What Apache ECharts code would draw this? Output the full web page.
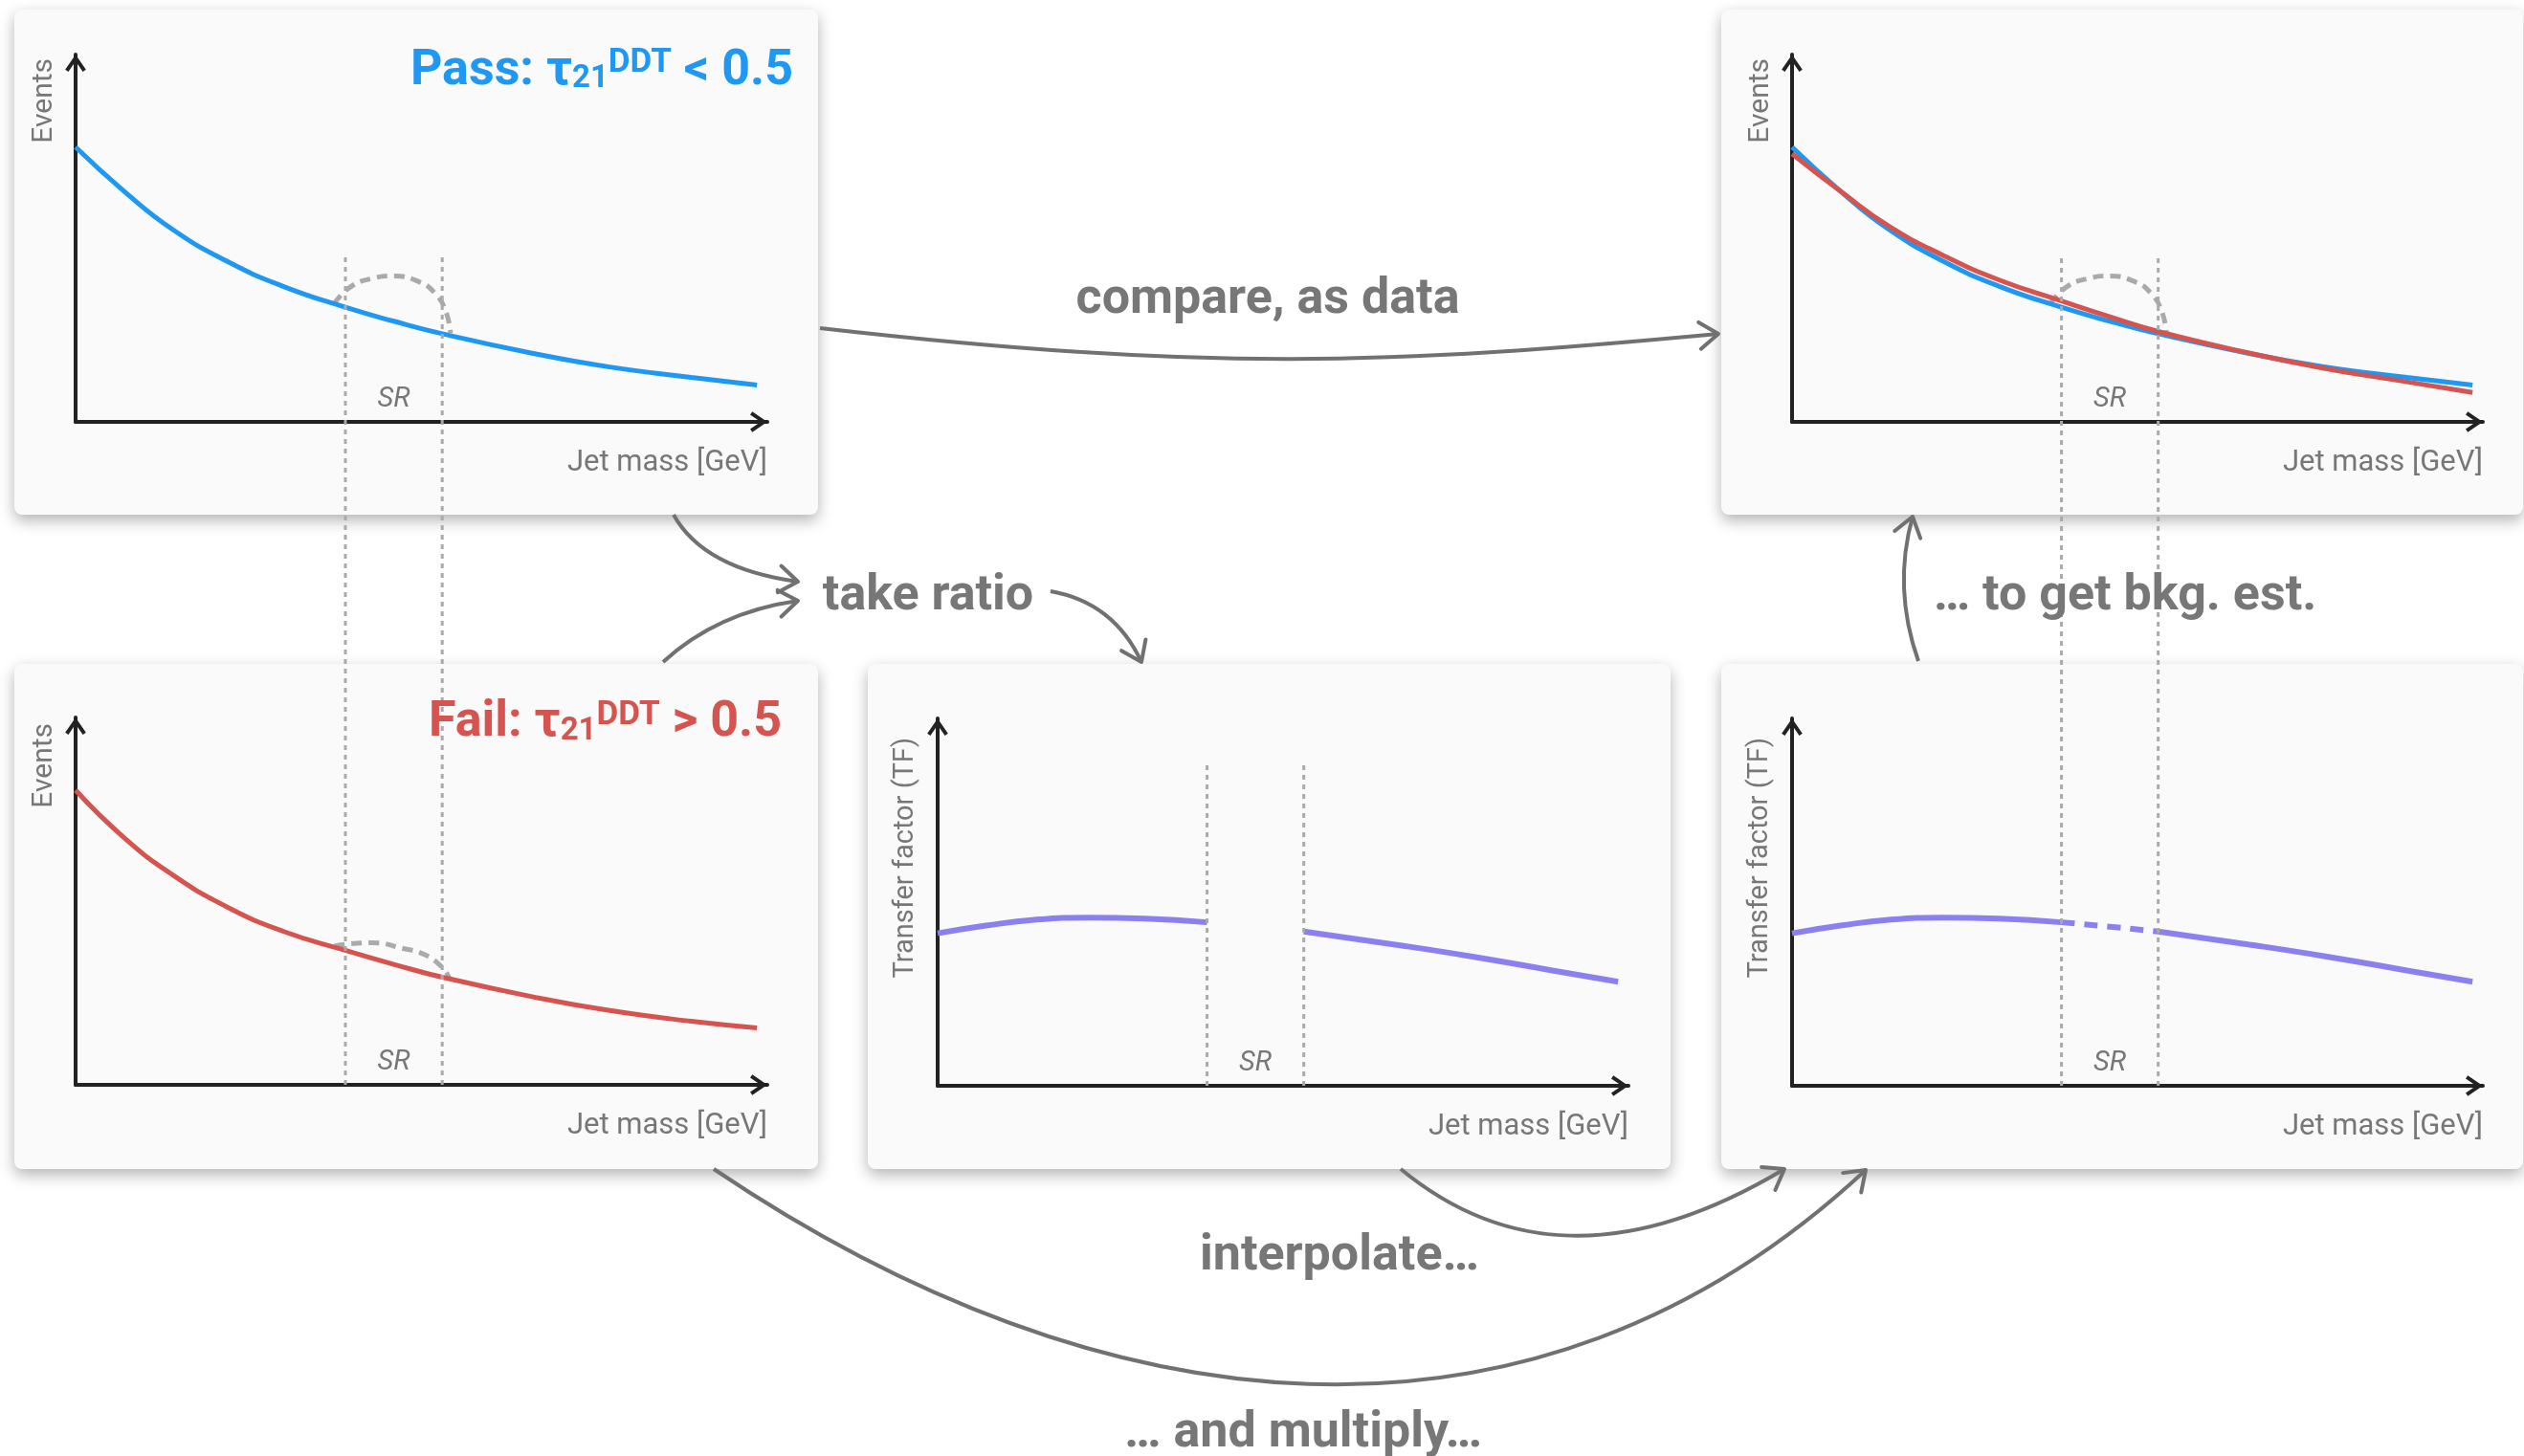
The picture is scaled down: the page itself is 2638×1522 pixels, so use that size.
<!DOCTYPE html>
<html>
<head>
<meta charset="utf-8">
<script src="https://cdn.jsdelivr.net/npm/echarts@6/dist/echarts.min.js"></script>
<style>
  html, body { margin: 0; padding: 0; background: #ffffff; }
  #chart { width: 2638px; height: 1522px; }
</style>
</head>
<body>
<div id="chart"></div>
<script>
// ---- data (arbitrary units: jet mass 0-100 along the axis, events / TF 0-100) ----
const jetMass      = [0, 7, 14, 22, 30, 39, 46, 53, 66, 77, 89, 98.5];
const passEvents   = [74.8, 62.8, 52.4, 43.6, 36.9, 31.2, 27.4, 24.0, 18.7, 15.0, 12.1, 10.0];
const failEvents   = [80.2, 67.3, 57.2, 48.3, 41.8, 36.6, 32.8, 29.3, 24.0, 20.3, 17.3, 15.5];
const bkgEstimate  = [73.0, 62.8, 53.3, 45.2, 38.6, 32.9, 28.6, 24.6, 18.8, 14.6, 10.9, 8.0];
const transferFactor = [41.5, 43.6, 45.2, 45.8, 45.5, 44.5, 43.3, 42.0, 38.5, 35.3, 31.4, 28.3];

// signal bumps hidden under the smooth background
const passBumpMass = [37.4, 39.7, 42.8, 45.9, 49.7, 52.0, 53.5, 54.2];
const passBump     = [32.2, 36.7, 39.0, 39.7, 38.1, 34.9, 30.2, 24.2];
const failBumpMass = [37.4, 42.8, 47.4, 50.5, 53.1, 54.0];
const failBump     = [37.8, 38.7, 37.1, 35.4, 31.8, 29.0];

// signal-region window in jet mass
const srEdges = [39, 53];

// ---- style ----
const INK = '#222222', TEXT = '#777777', GUIDE = '#aaaaaa', CONNECT = '#717171';
const BLUE = '#1e98f2', RED = '#d5544f', PURPLE = '#8a80ef';
const FONT = 'Roboto';
const CHEVRON = 'path://M11,0L22,16L18.7,18.3L11,7.1L3.3,18.3L0,16Z';

// panel cards and their plotting areas [left, top, width, height] in px
const panels = [
  { box: [15, 10, 840, 528],   plot: [79, 57, 723, 384],   yName: 'Events', yTop: 4 },
  { box: [1799, 10, 838, 528], plot: [1873, 57, 722, 384], yName: 'Events', yTop: 4 },
  { box: [15, 694, 840, 528],  plot: [79, 750, 723, 384],  yName: 'Events', yTop: 6 },
  { box: [907, 694, 839, 528], plot: [980, 751, 722, 384], yName: 'Transfer factor (TF)', yTop: 20 },
  { box: [1799, 694, 838, 528], plot: [1873, 751, 722, 384], yName: 'Transfer factor (TF)', yTop: 20 }
];
// vertical extents of the dotted signal-region guides
const guides = [
  [79, 266, 723, 868],
  [1873, 266, 722, 869],
  [980, 796, 722, 339]
];

// ---- helpers ----
const pairs = (xs, ys) => xs.map((x, i) => [x, ys[i]]);
const inRange = (lo, hi) => pairs(jetMass, transferFactor).filter(p => p[0] >= lo && p[0] <= hi);

const grids = [], xAxes = [], yAxes = [];
function axis(i) {
  return {
    gridIndex: i, type: 'value', min: 0, max: 100,
    axisLine: {
      show: true, onZero: false,
      lineStyle: { color: INK, width: 4 },
      symbol: ['none', CHEVRON], symbolSize: [22, 18], symbolOffset: [0, -9]
    },
    axisTick: { show: false }, axisLabel: { show: false }, splitLine: { show: false }
  };
}
panels.forEach((p, i) => {
  grids.push({ left: p.plot[0], top: p.plot[1], width: p.plot[2], height: p.plot[3], outerBoundsMode: 'none', containLabel: false });
  xAxes.push(axis(i));
  yAxes.push(axis(i));
});
guides.forEach(g => {
  const i = grids.length;
  grids.push({ left: g[0], top: g[1], width: g[2], height: g[3], outerBoundsMode: 'none', containLabel: false });
  xAxes.push({ gridIndex: i, type: 'value', min: 0, max: 100, show: false });
  yAxes.push({ gridIndex: i, type: 'value', min: 0, max: 1, show: false });
});

function srArea() {
  return {
    silent: true,
    itemStyle: { color: 'rgba(0,0,0,0)' },
    label: {
      show: true, position: 'insideBottom', distance: 9, formatter: 'SR',
      color: TEXT, fontSize: 29, fontStyle: 'italic', fontFamily: FONT
    },
    data: [[{ coord: [srEdges[0], 0] }, { coord: [srEdges[1], 30] }]]
  };
}
function curve(g, data, color, width, extra) {
  return Object.assign({
    type: 'line', xAxisIndex: g, yAxisIndex: g, data: data,
    smooth: 0.5, showSymbol: false, symbol: 'none', silent: true, z: 3,
    lineStyle: { color: color, width: width, cap: 'butt' }, itemStyle: { color: color }
  }, extra || {});
}
function bump(g, xs, ys) {
  return curve(g, pairs(xs, ys), GUIDE, 5, { lineStyle: { color: GUIDE, width: 5, type: [11, 7] }, z: 2 });
}

const series = [
  // Pass region
  bump(0, passBumpMass, passBump),
  curve(0, pairs(jetMass, passEvents), BLUE, 5, { markArea: srArea() }),
  // comparison: pass data vs background estimate
  bump(1, passBumpMass, passBump),
  curve(1, pairs(jetMass, passEvents), BLUE, 5),
  curve(1, pairs(jetMass, bkgEstimate), RED, 5, { markArea: srArea() }),
  // Fail region
  bump(2, failBumpMass, failBump),
  curve(2, pairs(jetMass, failEvents), RED, 5, { markArea: srArea() }),
  // transfer factor from sidebands
  curve(3, inRange(0, srEdges[0]), PURPLE, 6, { markArea: srArea() }),
  curve(3, inRange(srEdges[1], 100), PURPLE, 6),
  // transfer factor interpolated through the signal region
  curve(4, inRange(0, srEdges[0]), PURPLE, 6, { markArea: srArea() }),
  curve(4, inRange(srEdges[0], srEdges[1]), PURPLE, 6, { lineStyle: { color: PURPLE, width: 6, type: [14, 10] } }),
  curve(4, inRange(srEdges[1], 100), PURPLE, 6)
];
// dotted signal-region boundaries
guides.forEach((g, k) => {
  const gi = panels.length + k;
  srEdges.forEach(edge => {
    series.push({
      type: 'line', xAxisIndex: gi, yAxisIndex: gi, data: [[edge, 0], [edge, 1]],
      showSymbol: false, symbol: 'none', silent: true, z: 4,
      lineStyle: { color: GUIDE, width: 3, type: [5, 5] }
    });
  });
});

// ---- annotations ----
const measureCtx = document.createElement('canvas').getContext('2d');
function textWidth(t, size, weight) {
  measureCtx.font = weight + ' ' + size + 'px ' + FONT;
  return measureCtx.measureText(t).width;
}
function text(str, x, baseline, size, opt) {
  opt = opt || {};
  return {
    type: 'text', z: 6, x: x, y: baseline - 0.25 * size, rotation: opt.rotation || 0,
    style: {
      text: str, fill: opt.color || TEXT, fontSize: size, fontFamily: FONT,
      fontWeight: opt.weight || 'normal', fontStyle: opt.style || 'normal',
      align: opt.align || 'center', verticalAlign: 'middle'
    }
  };
}
function title(parts, color, right, baseline) {
  const els = [];
  let x = right;
  for (let i = parts.length - 1; i >= 0; i--) {
    const p = parts[i];
    x -= textWidth(p.t, p.size, 'bold');
    els.push(text(p.t, x, baseline + p.shift, p.size, { color: color, weight: 'bold', align: 'left' }));
  }
  return els;
}
function connector(p0, c1, c2, p1) {
  const ang = Math.atan2(p1[1] - c2[1], p1[0] - c2[0]);
  const arm = 24, spread = 0.62;
  const a1 = [p1[0] - arm * Math.cos(ang - spread), p1[1] - arm * Math.sin(ang - spread)];
  const a2 = [p1[0] - arm * Math.cos(ang + spread), p1[1] - arm * Math.sin(ang + spread)];
  return [
    { type: 'bezierCurve', z: 5, silent: true,
      shape: { x1: p0[0], y1: p0[1], cpx1: c1[0], cpy1: c1[1], cpx2: c2[0], cpy2: c2[1], x2: p1[0], y2: p1[1] },
      style: { stroke: CONNECT, lineWidth: 4, fill: 'none' } },
    { type: 'polyline', z: 5, silent: true, shape: { points: [a1, p1, a2] },
      style: { stroke: CONNECT, lineWidth: 4, fill: 'none', lineJoin: 'round', lineCap: 'round' } }
  ];
}

const elements = [];
panels.forEach(p => {
  elements.push({
    type: 'rect', z: 0, silent: true,
    shape: { x: p.box[0], y: p.box[1], width: p.box[2], height: p.box[3], r: 8 },
    style: { fill: '#fafafa', shadowBlur: 16, shadowOffsetY: 6, shadowColor: 'rgba(0,0,0,0.30)' }
  });
  const [l, t, w, h] = p.plot;
  elements.push(text('Jet mass [GeV]', l + w, t + h + 51, 31, { align: 'right' }));
  elements.push({
    type: 'text', z: 6, x: l - 33, y: t + p.yTop, rotation: Math.PI / 2,
    style: { text: p.yName, fill: TEXT, fontSize: p.yName === 'Events' ? 30 : 29, fontFamily: FONT, align: 'right', verticalAlign: 'middle' }
  });
});

elements.push(...title([
  { t: 'Pass: τ', size: 52, shift: 0 },
  { t: '21', size: 33, shift: 3.5 },
  { t: 'DDT', size: 35, shift: -12.5 },
  { t: ' < 0.5', size: 52, shift: 0 }
], BLUE, 829, 87.5));
elements.push(...title([
  { t: 'Fail: τ', size: 52, shift: 0 },
  { t: '21', size: 33, shift: 3.5 },
  { t: 'DDT', size: 35, shift: -12.5 },
  { t: ' > 0.5', size: 52, shift: 0 }
], RED, 817, 769));

elements.push(text('compare, as data', 1325, 327, 52, { weight: 'bold' }));
elements.push(text('take ratio', 970, 637, 52, { weight: 'bold' }));
elements.push(text('… to get bkg. est.', 2221, 637, 52, { weight: 'bold' }));
elements.push(text('interpolate…', 1400, 1327, 52, { weight: 'bold' }));
elements.push(text('… and multiply…', 1362, 1512, 52, { weight: 'bold' }));

elements.push(...connector([857, 343], [1262, 389], [1452, 381], [1796, 349]));
elements.push(...connector([704, 538], [725, 576], [768, 599], [834, 608]));
elements.push(...connector([693, 692], [731, 657], [778, 636], [834, 628]));
elements.push(...connector([1098, 618], [1143, 626], [1174, 651], [1193, 692]));
elements.push(...connector([2005, 691], [1987, 640], [1985, 590], [1999, 540]));
elements.push(...connector([1464, 1222], [1568, 1308], [1698, 1322], [1865, 1222]));
elements.push(...connector([746, 1222], [1149, 1494], [1600, 1549], [1950, 1223]));

const chart = echarts.init(document.getElementById('chart'), null, { renderer: 'canvas' });
chart.setOption({
  animation: false,
  backgroundColor: '#ffffff',
  grid: grids,
  xAxis: xAxes,
  yAxis: yAxes,
  series: series,
  graphic: { elements: elements }
});
</script>
</body>
</html>
